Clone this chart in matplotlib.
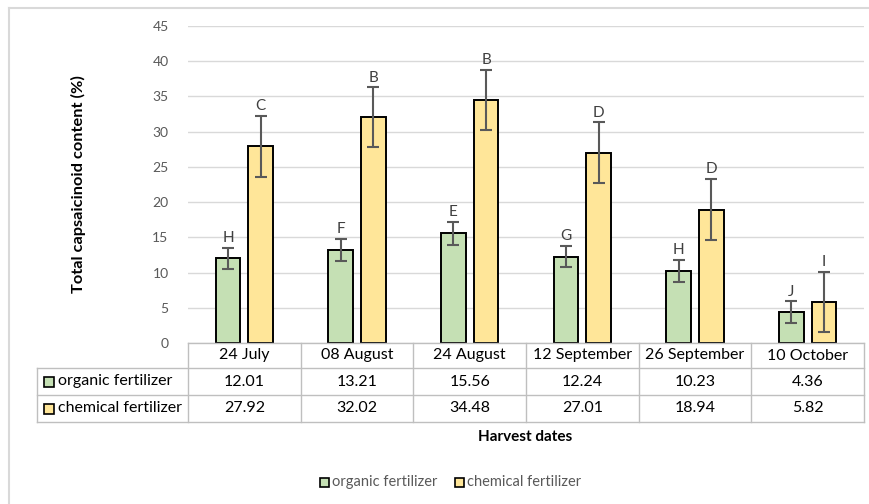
import numpy as np
import matplotlib.pyplot as plt
from matplotlib.lines import Line2D
from matplotlib.patches import Rectangle

plt.rcParams['font.family'] = ['Lato', 'DejaVu Sans']

dates = ['24 July', '08 August', '24 August', '12 September', '26 September', '10 October']
organic = [12.01, 13.21, 15.56, 12.24, 10.23, 4.36]
chemical = [27.92, 32.02, 34.48, 27.01, 18.94, 5.82]
organic_err = [1.5, 1.55, 1.6, 1.5, 1.6, 1.55]
chemical_err = [4.3, 4.25, 4.3, 4.3, 4.3, 4.3]
organic_letters = ['H', 'F', 'E', 'G', 'H', 'J']
chemical_letters = ['C', 'B', 'B', 'D', 'D', 'I']
series_names = ['organic fertilizer', 'chemical fertilizer']

GREEN = '#c5e0b4'
YELLOW = '#ffe699'
GRID = '#d9d9d9'
TABLE = '#bfbfbf'
TXT = '#595959'

W, H = 870, 504
fig = plt.figure(figsize=(W / 100, H / 100), dpi=100)


def fx(px):
    return px / W


def fy(py):
    return 1 - py / H


# plot area in pixels
left, right, top, bottom = 188, 864, 26, 343
ax = fig.add_axes([fx(left), fy(bottom), fx(right - left), fy(top) - fy(bottom)])

x = np.arange(len(dates))
bw = 0.22
off = 0.145
ax.bar(x - off, organic, bw, color=GREEN, edgecolor='black', linewidth=1.4, zorder=3)
ax.bar(x + off, chemical, bw, color=YELLOW, edgecolor='black', linewidth=1.4, zorder=3)
ax.errorbar(x - off, organic, yerr=organic_err, fmt='none', ecolor='#595959',
            elinewidth=1.5, capsize=4, capthick=1.5, zorder=4)
ax.errorbar(x + off, chemical, yerr=chemical_err, fmt='none', ecolor='#595959',
            elinewidth=1.5, capsize=4, capthick=1.5, zorder=4)

for i in range(len(dates)):
    ax.text(x[i] - off, organic[i] + organic_err[i] + 0.4, organic_letters[i],
            ha='center', va='bottom', fontsize=11, color='#404040')
    ax.text(x[i] + off, chemical[i] + chemical_err[i] + 0.4, chemical_letters[i],
            ha='center', va='bottom', fontsize=11, color='#404040')

ax.set_xlim(-0.5, len(dates) - 0.5)
ax.set_ylim(0, 45)
ax.set_yticks(range(0, 46, 5))
ax.set_xticks([])
ax.tick_params(axis='y', length=0, labelsize=10, labelcolor=TXT, pad=14)
ax.yaxis.grid(True, color=GRID, linewidth=1)
ax.set_axisbelow(True)
for s in ax.spines.values():
    s.set_visible(False)

# data table below the axis
rows = [343, 368, 395, 422]
cols = [left + i * (right - left) / len(dates) for i in range(len(dates) + 1)]
label_left = 37


def hline(y, x0, x1):
    fig.add_artist(Line2D([fx(x0), fx(x1)], [fy(y), fy(y)], color=TABLE, lw=1))


def vline(xp, y0, y1):
    fig.add_artist(Line2D([fx(xp), fx(xp)], [fy(y0), fy(y1)], color=TABLE, lw=1))


hline(rows[0], left, right)
for r in rows[1:]:
    hline(r, label_left, right)
for c in cols:
    vline(c, rows[0], rows[3])
vline(label_left, rows[1], rows[3])

for i, d in enumerate(dates):
    cx = (cols[i] + cols[i + 1]) / 2
    fig.text(fx(cx), fy((rows[0] + rows[1]) / 2), d, ha='center', va='center', fontsize=11.5)
    fig.text(fx(cx), fy((rows[1] + rows[2]) / 2), f'{organic[i]:.2f}', ha='center', va='center', fontsize=11.5)
    fig.text(fx(cx), fy((rows[2] + rows[3]) / 2), f'{chemical[i]:.2f}', ha='center', va='center', fontsize=11.5)

for k, (name, col) in enumerate(zip(series_names, [GREEN, YELLOW])):
    yc = (rows[k + 1] + rows[k + 2]) / 2
    fig.add_artist(Rectangle((fx(44), fy(yc + 5)), fx(10), fy(yc - 5) - fy(yc + 5),
                             facecolor=col, edgecolor='black', lw=1.2))
    fig.text(fx(58), fy(yc), name, ha='left', va='center', fontsize=11.5)

# axis titles
fig.text(fx(78), fy((top + bottom) / 2), 'Total capsaicinoid content (%)', rotation=90,
         ha='center', va='center', fontsize=11.8, fontweight='bold')
fig.text(fx(525), fy(437), 'Harvest dates', ha='center', va='center',
         fontsize=11, fontweight='bold')

# legend
for name, col, xp in zip(series_names, [GREEN, YELLOW], [320, 455]):
    fig.add_artist(Rectangle((fx(xp), fy(487)), fx(9), fy(478) - fy(487),
                             facecolor=col, edgecolor='black', lw=1.2))
    fig.text(fx(xp + 12), fy(482), name, ha='left', va='center', fontsize=10.5, color=TXT)

# outer frame
fig.add_artist(Line2D([fx(9), fx(9)], [fy(8), 0], color='#d9d9d9', lw=1.5))
fig.add_artist(Line2D([fx(9), 1], [fy(8), fy(8)], color='#d9d9d9', lw=1.5))

fig.savefig('out.png', dpi=100)
